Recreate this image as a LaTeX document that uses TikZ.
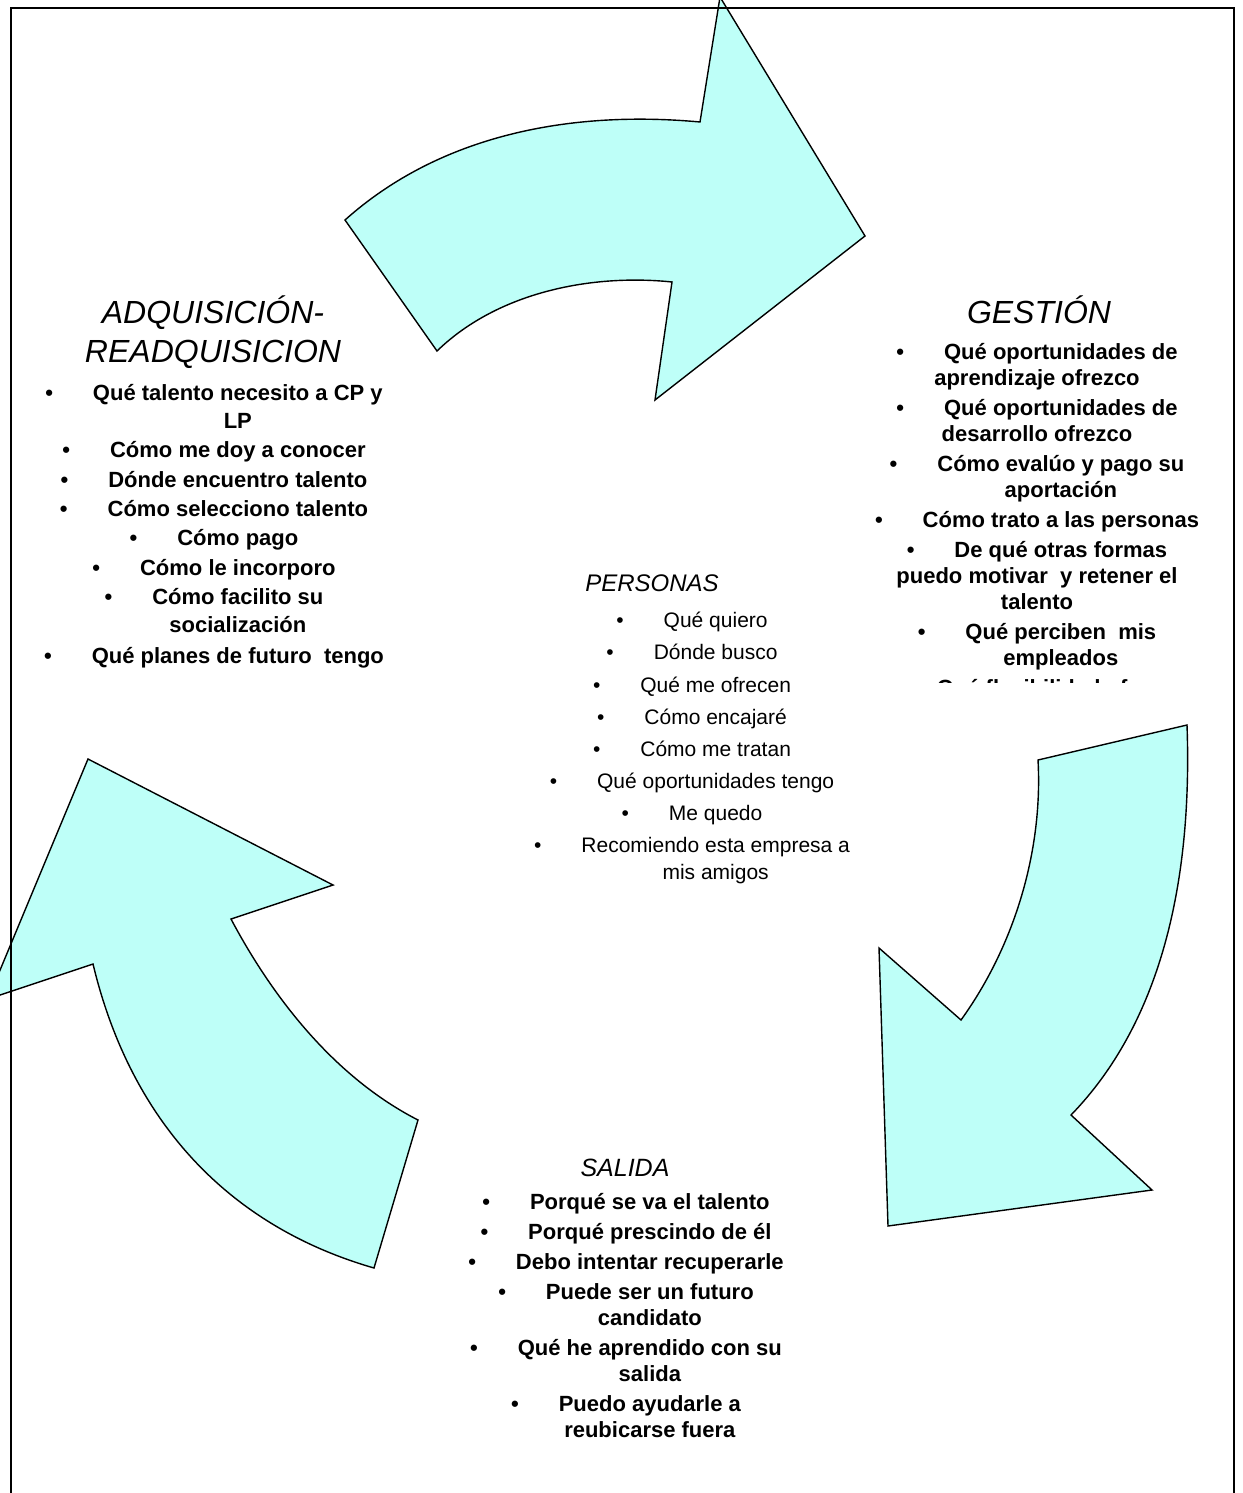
\documentclass[tikz,border=0pt]{standalone}
\usepackage{fontspec}
\setmainfont{Liberation Sans}
\definecolor{turquesa}{RGB}{190,255,248}
\newcommand{\bul}{\textbullet\hspace{20pt}}
\newcommand{\sangria}{\hphantom{\textbullet\hspace{20pt}}}

\begin{document}
\begin{tikzpicture}[x=0.5pt,y=-0.5pt,
	flecha/.style={fill=turquesa,draw=black,line width=0.7pt,line join=miter},
	titulo/.style={inner sep=0pt,font=\itshape\fontsize{16}{19.5}\selectfont,align=center},
	lista/.style={inner sep=0pt,font=\bfseries\fontsize{11}{13}\selectfont,align=center,anchor=north}]
		\useasboundingbox (0,0) rectangle (1242,1493);
		\clip (0,0) rectangle (1242,1493);
		% flechas del ciclo
		\draw [flecha] (345,220) .. controls (440,135) and (570,110) .. (700,122) -- (720,-3) -- (865,236) -- (655,400) -- (672,282) .. controls (596,274) and (500,290) .. (437,351) -- cycle;
		\draw [flecha] (1038,760) -- (1187,725) .. controls (1192,865) and (1168,1015) .. (1071,1115) -- (1152,1190) -- (888,1226) -- (879,948) -- (961,1020) .. controls (1015,945) and (1043,850) .. (1038,760) -- cycle;
		\draw [flecha] (374,1268) -- (418,1120) .. controls (336,1078) and (274,1000) .. (231,919) -- (333,885) -- (88,759) -- (-12,999) -- (93,964) .. controls (130,1118) and (225,1225) .. (374,1268) -- cycle;
		% marco
		\draw [line width=1.1pt] (11,1510) -- (11,8) -- (1234,8) -- (1234,1510);
		% titulos
		\node [titulo,anchor=north] (adqtit) at (213,295) {ADQUISICIÓN-\\READQUISICION};
		\node [titulo,anchor=base] (gestit) at (1039,323) {GESTIÓN};
		\node [titulo,anchor=base,font=\itshape\fontsize{12}{14}\selectfont] (pertit) at (652,591) {PERSONAS};
		\node [titulo,anchor=base,font=\itshape\fontsize{12.5}{15}\selectfont] (saltit) at (625,1176) {SALIDA};
		% listas
		\node [lista,font=\bfseries\fontsize{11}{14}\selectfont] (adqlista) at (214,384) {\bul Qué talento necesito a CP y\\ \sangria LP\\[0.65pt] \bul Cómo me doy a conocer\\[0.65pt] \bul Dónde encuentro talento\\[0.65pt] \bul Cómo selecciono talento\\[0.65pt] \bul Cómo pago\\[0.65pt] \bul Cómo le incorporo\\[0.65pt] \bul Cómo facilito su\\ \sangria socialización\\[1.5pt] \bul Qué planes de futuro\ \ tengo};
		\begin{scope}
		\clip (850,300) rectangle (1242,682);
		\node [lista] (geslista) at (1037,343) {\bul Qué oportunidades de\\ aprendizaje ofrezco\\[2pt] \bul Qué oportunidades de\\ desarrollo ofrezco\\[2pt] \bul Cómo evalúo y pago su\\ \sangria aportación\\[2pt] \bul Cómo trato a las personas\\[2pt] \bul De qué otras formas\\ puedo motivar\ \ y retener el\\ talento\\[2pt] \bul Qué perciben\ \ mis\\ \sangria empleados\\[2pt] \bul Qué flexibilidad ofrezco};
		\end{scope}
		\node [lista,font=\fontsize{10.5}{13.5}\selectfont] (perlista) at (692,612) {\bul Qué quiero\\[2.55pt] \bul Dónde busco\\[2.55pt] \bul Qué me ofrecen\\[2.55pt] \bul Cómo encajaré\\[2.55pt] \bul Cómo me tratan\\[2.55pt] \bul Qué oportunidades tengo\\[2.55pt] \bul Me quedo\\[2.55pt] \bul Recomiendo esta empresa a\\ \sangria mis amigos};
		\node [lista] (sallista) at (626,1193) {\bul Porqué se va el talento\\[2pt] \bul Porqué prescindo de él\\[2pt] \bul Debo intentar recuperarle\\[2pt] \bul Puede ser un futuro\\ \sangria candidato\\[2pt] \bul Qué he aprendido con su\\ \sangria salida\\[2pt] \bul Puedo ayudarle a\\ \sangria reubicarse fuera};
\end{tikzpicture}
\end{document}
